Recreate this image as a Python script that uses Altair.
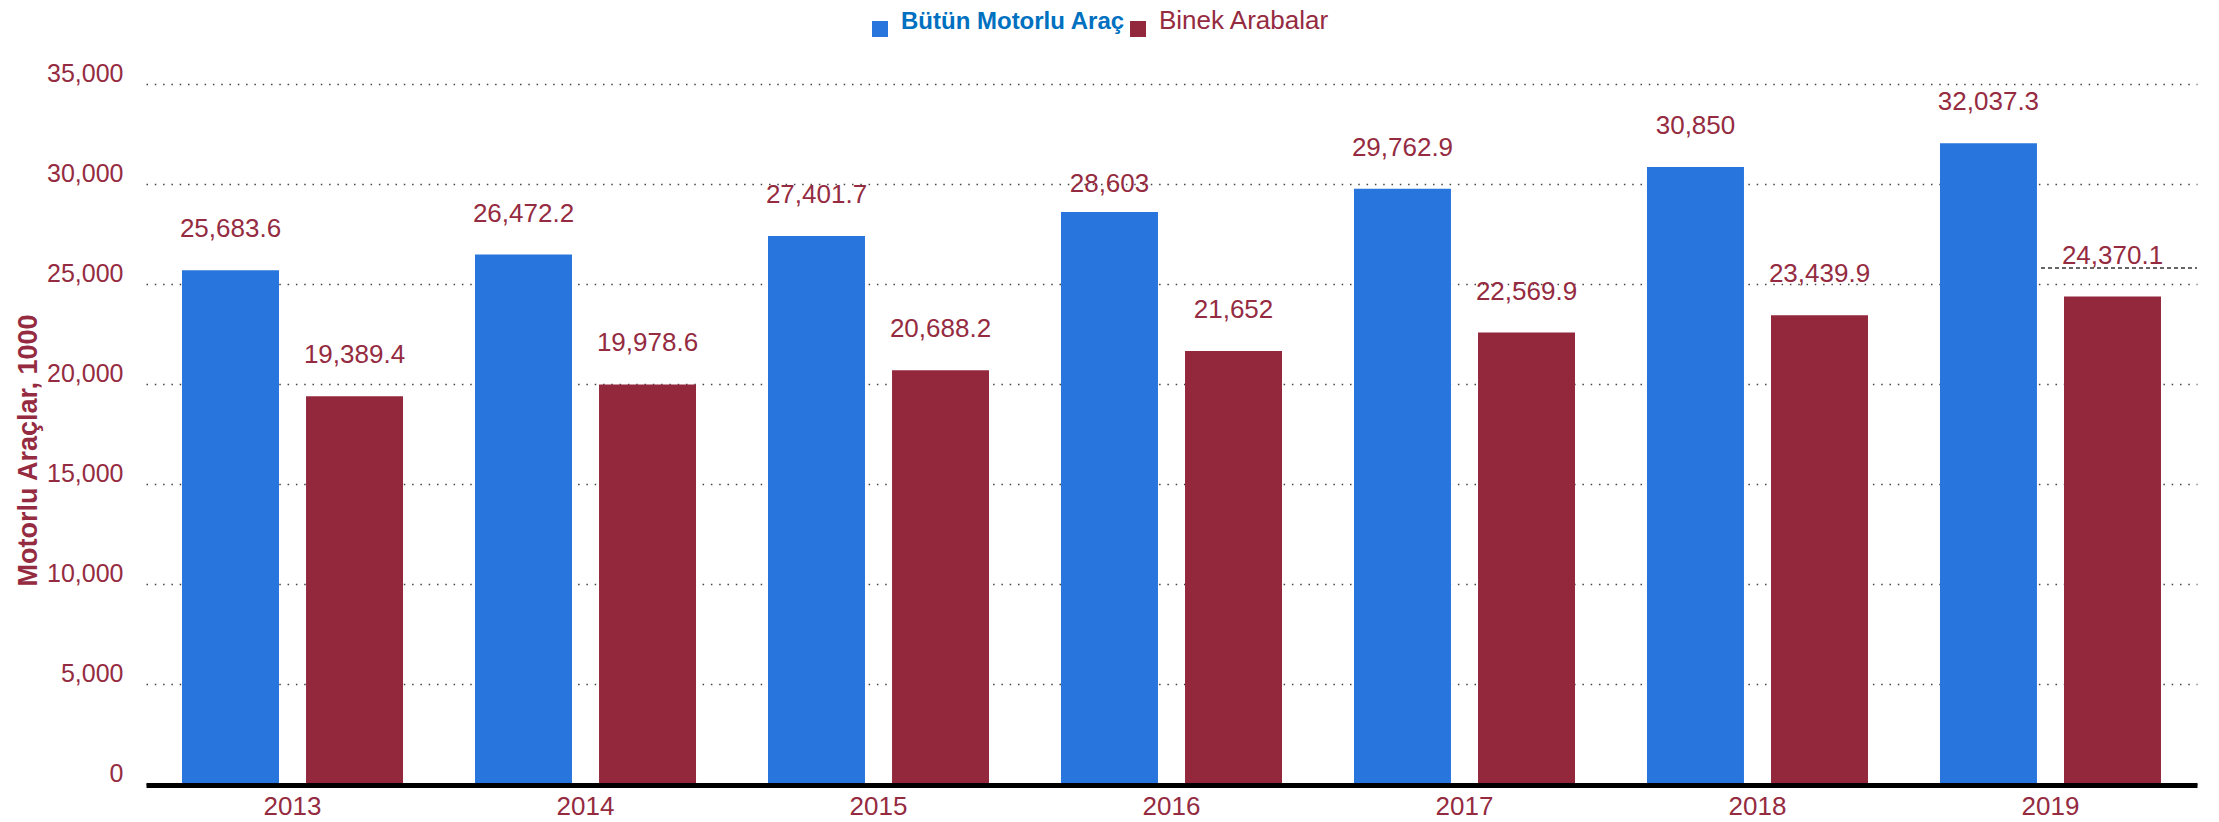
import altair as alt
import pandas as pd

years = ["2013", "2014", "2015", "2016", "2017", "2018", "2019"]
all_vehicles = [25683.6, 26472.2, 27401.7, 28603, 29762.9, 30850, 32037.3]
passenger_cars = [19389.4, 19978.6, 20688.2, 21652, 22569.9, 23439.9, 24370.1]
series_names = ["Bütün Motorlu Araç", "Binek Arabalar"]
marker_year = ["2019"]
marker_value = [25800]

BLUE = "#2876DD"
RED = "#93283D"
TXT_RED = "#952B41"
TXT_BLUE = "#0070C0"
FONT = "Liberation Sans"

rows = []
for i, y in enumerate(years):
    rows.append({"year": y, "series": series_names[0], "value": all_vehicles[i]})
    rows.append({"year": y, "series": series_names[1], "value": passenger_cars[i]})
df = pd.DataFrame(rows)
mk = pd.DataFrame({"year": marker_year, "value": marker_value})

x_scale = alt.Scale(domain=years, paddingInner=0.2457, paddingOuter=0.1229)
y_scale = alt.Scale(domain=[0, 35000], nice=False)

x_enc = alt.X(
    "year:N",
    scale=x_scale,
    axis=alt.Axis(
        title=None, labelAngle=0, ticks=False, labelFontSize=26, labelColor=TXT_RED,
        labelFont=FONT, labelBaseline="alphabetic", labelPadding=29,
        domainColor="#000000", domainWidth=5, offset=1, grid=False, zindex=1,
    ),
)
xoff = alt.XOffset("series:N", sort=series_names,
                   scale=alt.Scale(domain=series_names, paddingInner=0.218, paddingOuter=0))
y_enc = alt.Y(
    "value:Q",
    scale=y_scale,
    axis=alt.Axis(
        title="Motorlu Araçlar, 1000", values=list(range(0, 35001, 5000)), format=",d",
        grid=True, gridDash=[1.5, 6.8], gridColor="#444444", gridWidth=1.5,
        domain=False, ticks=False, labelPadding=23, labelFontSize=25, labelColor=TXT_RED,
        labelFont=FONT, labelBaseline="alphabetic", labelOffset=-3,
        titleFont=FONT, titleFontSize=27, titleFontWeight="bold", titleColor=TXT_RED,
        titlePadding=4, titleY=366,
    ),
)

is_blue = "datum.value == 'Bütün Motorlu Araç'"
legend = alt.Legend(
    title=None, orient="none", legendX=721, legendY=-68, direction="horizontal",
    symbolType="square", symbolSize=256, symbolStrokeWidth=0, labelOffset=8,
    columnPadding=-11, labelLimit=600, labelBaseline="alphabetic", padding=0,
    labelFontSize=alt.ExprRef(f"{is_blue} ? 24 : 26"),
    labelColor=alt.ExprRef(f"{is_blue} ? '{TXT_BLUE}' : '{TXT_RED}'"),
    labelFontWeight=alt.ExprRef(f"{is_blue} ? 'bold' : 'normal'"),
    labelFont=FONT,
)

base = alt.Chart(df)
bars = base.mark_bar().encode(
    x=x_enc, xOffset=xoff, y=y_enc,
    color=alt.Color("series:N", scale=alt.Scale(domain=series_names, range=[BLUE, RED]), legend=legend),
)
lbl_enc = dict(
    x=alt.X("year:N", scale=x_scale), xOffset=xoff, y=alt.Y("value:Q", scale=y_scale),
    text=alt.Text("value:Q", format=",.1~f"),
)
special = "datum.year == '2016' && datum.series == 'Bütün Motorlu Araç'"
labels = base.transform_filter(f"!({special})").mark_text(
    baseline="alphabetic", dy=-33, fontSize=26, color=TXT_RED, font=FONT).encode(**lbl_enc)
labels_low = base.transform_filter(special).mark_text(
    baseline="alphabetic", dy=-20, fontSize=26, color=TXT_RED, font=FONT).encode(**lbl_enc)
rule = alt.Chart(mk).mark_rule(strokeDash=[4, 3], color="#333333", strokeWidth=1.5).encode(
    x=alt.X("year:N", scale=x_scale, bandPosition=0.457),
    x2=alt.value("width"),
    y=alt.Y("value:Q", scale=y_scale),
)

chart = alt.layer(bars, labels, labels_low, rule).properties(
    width=2051, height=700,
    autosize=alt.AutoSizeParams(type="none"),
    padding={"left": 138, "top": 76, "right": 14, "bottom": 36},
).configure(font=FONT).configure_view(stroke="transparent", strokeWidth=0)

chart.save("out.html", embed_options={"renderer": "svg", "actions": False})
